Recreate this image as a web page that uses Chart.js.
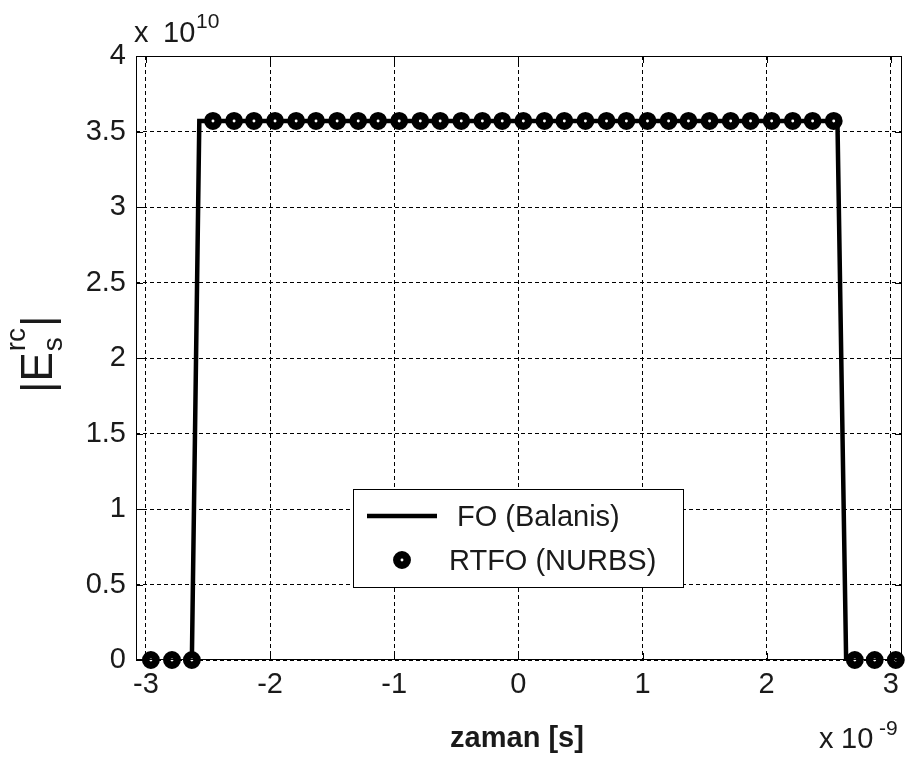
<!DOCTYPE html>
<html>
<head>
<meta charset="utf-8">
<script src="https://cdn.jsdelivr.net/npm/chart.js@4/dist/chart.umd.min.js"></script>
<style>
  html, body { margin: 0; padding: 0; background: #fff; }
  #chart { display: block; }
</style>
</head>
<body>
<canvas id="chart" width="905" height="758"></canvas>
<script>
// values in units of 1e-9 s (x) and 1e10 (y)
const xTicks = [-3, -2, -1, 0, 1, 2, 3];
const xTickLabels = ['-3', '-2', '-1', '0', '1', '2', '3'];
const yTicks = [0, 0.5, 1, 1.5, 2, 2.5, 3, 3.5, 4];
const yTickLabels = ['0', '0.5', '1', '1.5', '2', '2.5', '3', '3.5', '4'];

// FO (Balanis) - solid line
const foX = [-2.63, -2.57, 2.57, 2.64];
const foY = [0, 3.57, 3.57, 0];

// RTFO (NURBS) - circle markers
const rtfoX = [-2.96, -2.79, -2.63, -2.46, -2.29, -2.13, -1.96, -1.79, -1.63, -1.46,
  -1.29, -1.13, -0.96, -0.79, -0.63, -0.46, -0.29, -0.13, 0.04, 0.21,
  0.37, 0.54, 0.71, 0.87, 1.04, 1.21, 1.37, 1.54, 1.71, 1.87,
  2.04, 2.21, 2.37, 2.54, 2.71, 2.87, 3.04];
const rtfoY = [0, 0, 0, 3.57, 3.57, 3.57, 3.57, 3.57, 3.57, 3.57,
  3.57, 3.57, 3.57, 3.57, 3.57, 3.57, 3.57, 3.57, 3.57, 3.57,
  3.57, 3.57, 3.57, 3.57, 3.57, 3.57, 3.57, 3.57, 3.57, 3.57,
  3.57, 3.57, 3.57, 3.57, 0, 0, 0];

const FONT = '"Liberation Sans", Arial, Helvetica, sans-serif';
const TEXT = '#1a1a1a';

// box, inner tick marks, exponent labels, axis titles and legend
const decorations = {
  id: 'decorations',
  afterDraw(chart) {
    const { ctx, chartArea: a, scales: { x, y } } = chart;
    ctx.save();
    ctx.strokeStyle = '#000';
    ctx.lineWidth = 1;
    ctx.setLineDash([]);
    ctx.beginPath();
    xTicks.forEach(v => {
      const px = Math.round(x.getPixelForValue(v)) + 0.5;
      ctx.moveTo(px, a.bottom); ctx.lineTo(px, a.bottom - 7);
      ctx.moveTo(px, a.top); ctx.lineTo(px, a.top + 7);
    });
    yTicks.forEach(v => {
      const py = Math.round(y.getPixelForValue(v)) + 0.5;
      ctx.moveTo(a.left, py); ctx.lineTo(a.left + 7, py);
      ctx.moveTo(a.right, py); ctx.lineTo(a.right - 7, py);
    });
    ctx.stroke();
    ctx.strokeRect(a.left + 0.5, a.top + 0.5, a.right - a.left - 1, a.bottom - a.top - 1);

    ctx.fillStyle = TEXT;
    ctx.textBaseline = 'alphabetic';
    ctx.textAlign = 'left';
    // x 10^10
    ctx.font = '29px ' + FONT;
    ctx.fillText('x', 134, 42);
    ctx.fillText('10', 163, 42);
    ctx.font = '21px ' + FONT;
    ctx.fillText('10', 196, 28);
    // x 10^-9
    ctx.font = '29px ' + FONT;
    ctx.fillText('x', 819, 748);
    ctx.fillText('10', 841, 748);
    ctx.font = '21px ' + FONT;
    ctx.fillText('-9', 879, 735);

    // x title
    ctx.font = 'bold 29px ' + FONT;
    ctx.textAlign = 'center';
    ctx.fillText('zaman [s]', 517, 747);

    // y title |E_s^rc|
    ctx.save();
    ctx.translate(52, 393);
    ctx.rotate(-Math.PI / 2);
    ctx.textAlign = 'left';
    let cx = 0;
    ctx.font = '44px ' + FONT;
    ctx.fillText('|E', cx, 0);
    cx += ctx.measureText('|E').width + 1;
    ctx.font = '28px ' + FONT;
    ctx.fillText('s', cx, 10);
    ctx.fillText('rc', cx, -27);
    cx += Math.max(ctx.measureText('s').width, ctx.measureText('rc').width) + 1;
    ctx.font = '44px ' + FONT;
    ctx.fillText('|', cx, 0);
    ctx.restore();

    // legend
    const lx = 353, ly = 489, lw = 330, lh = 98;
    ctx.fillStyle = '#fff';
    ctx.fillRect(lx, ly, lw, lh);
    ctx.strokeStyle = '#000';
    ctx.lineWidth = 1;
    ctx.strokeRect(lx + 0.5, ly + 0.5, lw, lh);
    const [fo, rtfo] = chart.data.datasets;
    ctx.lineWidth = fo.borderWidth;
    ctx.beginPath();
    ctx.moveTo(367, 516); ctx.lineTo(437, 516);
    ctx.stroke();
    ctx.lineWidth = rtfo.pointBorderWidth;
    ctx.beginPath();
    ctx.arc(402, 560, rtfo.pointRadius, 0, Math.PI * 2);
    ctx.fillStyle = '#fff';
    ctx.fill();
    ctx.stroke();
    ctx.fillStyle = TEXT;
    ctx.font = '29px ' + FONT;
    ctx.textAlign = 'left';
    ctx.textBaseline = 'middle';
    ctx.fillText(fo.label, 457, 518);
    ctx.fillText(rtfo.label, 449, 562);
    ctx.restore();
  }
};

new Chart(document.getElementById('chart'), {
  type: 'line',
  data: {
    datasets: [
      {
        label: 'FO (Balanis)',
        data: foX.map((v, i) => ({ x: v, y: foY[i] })),
        borderColor: '#000',
        borderWidth: 4.5,
        pointRadius: 0,
        tension: 0,
        order: 1
      },
      {
        label: 'RTFO (NURBS)',
        data: rtfoX.map((v, i) => ({ x: v, y: rtfoY[i] })),
        showLine: false,
        pointStyle: 'circle',
        pointRadius: 5.2,
        pointBorderWidth: 7.5,
        pointBorderColor: '#000',
        pointBackgroundColor: '#fff',
        clip: false,
        order: 0
      }
    ]
  },
  options: {
    responsive: false,
    animation: false,
    layout: { autoPadding: false, padding: { top: 56, right: 3, left: 0, bottom: 0 } },
    plugins: { legend: { display: false }, tooltip: { enabled: false } },
    scales: {
      x: {
        type: 'linear',
        min: -3.08,
        max: 3.09,
        afterFit: s => { s.height = 98; s.paddingLeft = 0; s.paddingRight = 0; },
        afterBuildTicks: s => { s.ticks = xTicks.map(v => ({ value: v })); },
        grid: { color: '#000', lineWidth: 1, drawTicks: false },
        border: { display: false, dash: [4, 3] },
        ticks: {
          color: TEXT,
          font: { family: FONT, size: 29 },
          padding: 8,
          maxRotation: 0,
          callback: (v, i) => xTickLabels[i]
        }
      },
      y: {
        type: 'linear',
        min: 0,
        max: 4,
        afterFit: s => { s.width = 136; s.paddingTop = 0; s.paddingBottom = 0; },
        afterBuildTicks: s => { s.ticks = yTicks.map(v => ({ value: v })); },
        grid: { color: '#000', lineWidth: 1, drawTicks: false },
        border: { display: false, dash: [4, 3] },
        ticks: {
          color: TEXT,
          font: { family: FONT, size: 29 },
          padding: 10,
          callback: (v, i) => yTickLabels[i]
        }
      }
    }
  },
  plugins: [decorations]
});
</script>
</body>
</html>
